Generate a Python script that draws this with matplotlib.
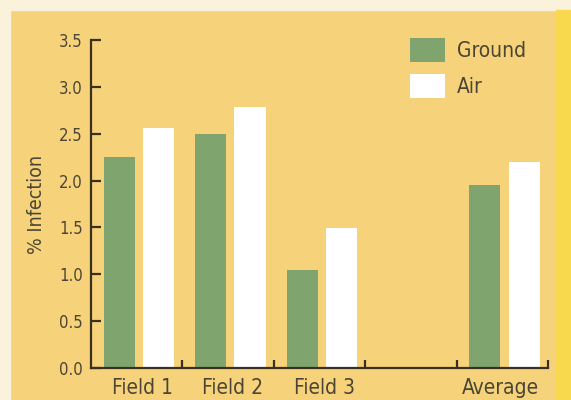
import numpy as np
import matplotlib
matplotlib.use("Agg")
import matplotlib.pyplot as plt
from matplotlib.patches import Rectangle

# datos
categorias = ["Field 1", "Field 2", "Field 3", "", "Average"]
posiciones = [0, 1, 2, 4]          # la cuarta casilla va vacia
ground = [2.25, 2.50, 1.05, 1.95]
air = [2.56, 2.78, 1.49, 2.20]
yticks = [0.0, 0.5, 1.0, 1.5, 2.0, 2.5, 3.0, 3.5]

fondo = "#f6d37a"
verde = "#7fa46e"
texto = "#4c4536"
ejes = "#3a3020"

plt.rcParams['font.family'] = ['DejaVu Sans']
plt.rcParams['font.stretch'] = 'condensed'

fig = plt.figure(figsize=(5.71, 4.0), dpi=100, facecolor=fondo)
# borde de la pagina escaneada
fig.patches.append(Rectangle((0, 0.975), 1, 0.025, transform=fig.transFigure, color="#fbf2dc", zorder=0))
fig.patches.append(Rectangle((0, 0), 0.017, 1, transform=fig.transFigure, color="#fbf2dc", zorder=0))
fig.patches.append(Rectangle((0.974, 0), 0.026, 0.975, transform=fig.transFigure, color="#f8d84c", zorder=0))

ax = fig.add_axes([91/571, 1-368/400, 457/571, 328/400])
ax.set_facecolor("none")

x = np.array(posiciones)
ancho = 0.34
ax.bar(x + 0.31, ground, width=ancho, color=verde, label="Ground", zorder=2)
ax.bar(x + 0.74, air, width=ancho, color="white", label="Air", zorder=2)

ax.set_xlim(0, 5)
ax.set_ylim(0, 3.5)

for s in ["top", "right"]:
    ax.spines[s].set_visible(False)
for s in ["left", "bottom"]:
    ax.spines[s].set_color(ejes)
    ax.spines[s].set_linewidth(1.6)

ax.set_yticks(yticks)
ax.set_yticklabels([f"{v:.1f}" for v in yticks])
ax.tick_params(axis="y", direction="in", length=7, width=1.6, color=ejes,
               labelsize=12, labelcolor=texto, pad=6)

# marcas entre grupos y etiquetas en el centro de cada grupo
ax.set_xticks([1, 2, 3, 4, 5])
ax.set_xticklabels([])
ax.tick_params(axis="x", which="major", direction="in", length=6, width=1.6, color=ejes)
ax.set_xticks(np.arange(5) + np.array([0.56, 0.55, 0.55, 0.5, 0.48]), minor=True)
ax.set_xticklabels(categorias, minor=True)
ax.tick_params(axis="x", which="minor", length=0, labelsize=15, labelcolor=texto, pad=7)

ax.set_ylabel("% Infection", fontsize=14, color=texto, labelpad=9)

ax.legend(loc="upper left", bbox_to_anchor=(410/571, 1-38/400), bbox_transform=fig.transFigure,
          frameon=False, fontsize=15, labelcolor=texto, borderpad=0, borderaxespad=0,
          handlelength=1.7, handleheight=1.4, handletextpad=0.55, labelspacing=0.57)

fig.savefig("out.png", dpi=100, facecolor=fondo)
